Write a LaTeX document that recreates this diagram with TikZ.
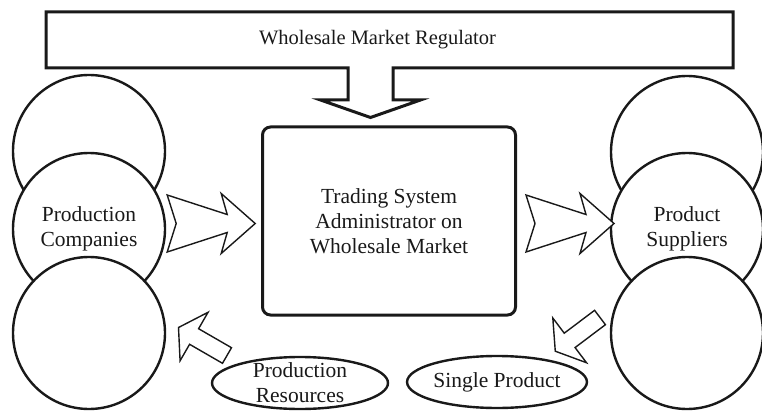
\documentclass[tikz,border=0pt]{standalone}
\usepackage{fontspec}
\setmainfont{Liberation Serif}
\usetikzlibrary{shapes.geometric,positioning,calc}
\tikzset{
	firm/.style={circle, draw=black!90, line width=2.4pt, fill=white,
		minimum size=152pt, inner sep=0pt, align=center, text=black!90},
	adminbox/.style={rectangle, draw=black!90, line width=3pt, rounded corners=8pt,
		minimum width=253pt, minimum height=188pt, align=center, text=black!90},
	goods/.style={ellipse, draw=black!90, line width=2.4pt, fill=white, minimum height=52pt,
		inner xsep=0pt, inner ysep=-8pt, align=center, text=black!90},
	banner/.style={draw=black!90, line width=3pt, line join=miter},
	blockarr/.style={draw=black!90, line width=1.4pt, line join=miter, fill=white},
	pics/bigarr/.style={code={
		\draw[blockarr] (0,28.5) -- (60,9) -- (54,30) -- (88,0) -- (54,-30) -- (60,-9) -- (0,-28.5) -- (9,0) -- cycle;}},
	pics/smallarr/.style={code={
		\draw[blockarr] (0,9) -- (38,9) -- (38,28) -- (56,0) -- (38,-28) -- (38,-9) -- (0,-9) -- cycle;}}
}
\begin{document}
\begin{tikzpicture}[x=1pt, y=1pt, font=\fontsize{21.5}{25}\selectfont]
	\useasboundingbox (0,0) rectangle (762,410);
	\node[inner sep=0pt, outer sep=0pt, minimum width=687pt, minimum height=56pt, text=black!90,
		font=\fontsize{20.5}{24}\selectfont] (reg) at (389.5,370) {Wholesale Market Regulator\hspace*{24pt}};
	\node[adminbox] (admin) at (389,189) {Trading System\\Administrator on\\Wholesale Market};
	\coordinate (regtip) at ($(admin.north)+(-18.5,8)$);
	\draw[banner] (reg.south west) -- (reg.north west) -- (reg.north east) -- (reg.south east)
		-- ($(regtip |- reg.south)+(22.5,0)$) -- ++(0,-32) -- ++(27.5,0) -- (regtip)
		-- ($(regtip |- reg.south)+(-50,-32)$) -- ++(27.5,0) -- ++(0,32) -- cycle;
	\node[firm] (prodtop) at (89,259) {};
	\node[firm, on grid, below=78pt of prodtop] (prod) {Production\\Companies};
	\node[firm, on grid, below=104pt of prod] (prodbot) {};
	\node[firm] (supptop) at (687,258) {};
	\node[firm, on grid, below=77pt of supptop] (supp) {Product\\Suppliers};
	\node[firm, on grid, below=104pt of supp] (suppbot) {};
	\node[goods, minimum width=176pt] (res) at (300,27) {Production\\Resources};
	\node[goods, minimum width=167pt] (single) at (497,28) {Single Product};
	\pic at ($(prod.east)+(1,5.5)$) {bigarr};
	\pic at ($(admin.east)+(9,-2.5)$) {bigarr};
	\pic[rotate=150] at ($(res.center)+(-73,27.5)$) {smallarr};
	\pic[rotate=217] at ($(single.center)+(103,64.5)$) {smallarr};
\end{tikzpicture}
\end{document}
